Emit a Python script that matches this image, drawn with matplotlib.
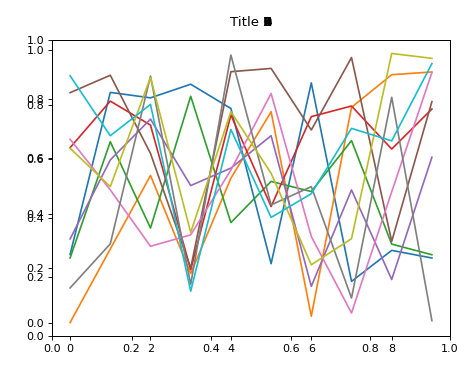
import numpy as np
import matplotlib
matplotlib.use('Agg')
import matplotlib.pyplot as plt
from matplotlib.transforms import IdentityTransform

x = np.arange(10)

blue = [0.25, 0.845, 0.825, 0.875, 0.786, 0.216, 0.88, 0.151, 0.265, 0.237]
orange = [0.0, 0.27, 0.54, 0.18, 0.53, 0.774, 0.023, 0.79, 0.91, 0.92]
green = [0.237, 0.664, 0.347, 0.831, 0.367, 0.518, 0.481, 0.668, 0.288, 0.249]
red = [0.642, 0.813, 0.725, 0.194, 0.762, 0.426, 0.756, 0.795, 0.637, 0.784]
purple = [0.307, 0.597, 0.747, 0.503, 0.567, 0.686, 0.133, 0.487, 0.158, 0.607]
brown = [0.844, 0.908, 0.621, 0.2, 0.921, 0.933, 0.707, 0.973, 0.298, 0.811]
pink = [0.673, 0.487, 0.28, 0.322, 0.56, 0.841, 0.316, 0.035, 0.48, 0.918]
gray = [0.127, 0.289, 0.905, 0.14, 0.982, 0.432, 0.499, 0.09, 0.827, 0.007]
olive = [0.64, 0.499, 0.9, 0.331, 0.774, 0.548, 0.212, 0.308, 0.988, 0.97]
cyan = [0.906, 0.686, 0.801, 0.115, 0.709, 0.386, 0.473, 0.713, 0.667, 0.951]

series = [blue, orange, green, red, purple, brown, pink, gray, olive, cyan]
digits = ['1', '2', '3', '4', '5', '6', '7', '8', '9']

W, H = 474, 372
fig = plt.figure(figsize=(W / 80, H / 80), dpi=80)
rect = [52 / W, (H - 336) / H, 398 / W, 296 / H]

# empty axes underneath, default 0..1 limits
ax0 = fig.add_axes(rect)

# data axes on top of it, same box
ax = fig.add_axes(rect)
ax.patch.set_alpha(0)
for s in series:
    ax.plot(x, s)

ax0.set_title('Title 0', pad=13)

# the other title digits pile up on the last character
fig.canvas.draw()
bb = ax0.title.get_window_extent(fig.canvas.get_renderer())
base_y = ax0.title.get_transform().transform((0.5, 1.0))[1]
for d in digits:
    fig.text(bb.x1, base_y, d, transform=IdentityTransform(),
             ha='right', va='baseline', fontsize=ax0.title.get_fontsize())

fig.savefig('out.png', dpi=80)
